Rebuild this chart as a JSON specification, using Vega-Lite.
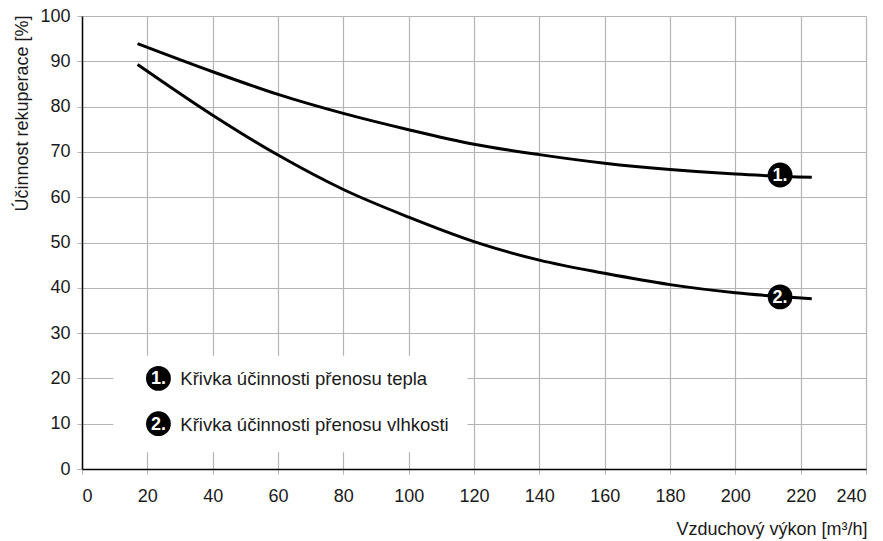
{
  "$schema": "https://vega.github.io/schema/vega-lite/v6.json",
  "autosize": {"type": "none"},
  "padding": {"left": 82, "top": 16, "right": 17, "bottom": 72},
  "width": 784,
  "height": 453,
  "background": "white",
  "config": {
    "view": {"stroke": null},
    "font": "Liberation Sans",
    "axis": {
      "labelFont": "Liberation Sans",
      "titleFont": "Liberation Sans",
      "labelFontSize": 18,
      "titleFontSize": 18,
      "titleFontWeight": "normal",
      "labelColor": "#1a1a1a",
      "titleColor": "#1a1a1a",
      "domainColor": "black",
      "domainWidth": 1.5,
      "gridColor": "#b4b4b4",
      "gridWidth": 1.2,
      "tickColor": "#b4b4b4",
      "tickSize": 5
    }
  },
  "datasets": {
    "curves": [
      {"series": "1", "x": 17, "y": 93.9},
      {"series": "1", "x": 40, "y": 87.7},
      {"series": "1", "x": 60, "y": 82.7},
      {"series": "1", "x": 80, "y": 78.5},
      {"series": "1", "x": 100, "y": 74.9},
      {"series": "1", "x": 120, "y": 71.7},
      {"series": "1", "x": 140, "y": 69.4},
      {"series": "1", "x": 160, "y": 67.5},
      {"series": "1", "x": 180, "y": 66.1},
      {"series": "1", "x": 200, "y": 65.1},
      {"series": "1", "x": 223.4, "y": 64.4},
      {"series": "2", "x": 17, "y": 89.3},
      {"series": "2", "x": 40, "y": 78.1},
      {"series": "2", "x": 60, "y": 69.3},
      {"series": "2", "x": 80, "y": 61.7},
      {"series": "2", "x": 100, "y": 55.6},
      {"series": "2", "x": 120, "y": 50.2},
      {"series": "2", "x": 140, "y": 46.1},
      {"series": "2", "x": 160, "y": 43.2},
      {"series": "2", "x": 180, "y": 40.7},
      {"series": "2", "x": 200, "y": 38.9},
      {"series": "2", "x": 223.4, "y": 37.6}
    ],
    "markers": [
      {"label": "1.", "x": 213.7, "y": 64.9},
      {"label": "2.", "x": 213.7, "y": 38.0}
    ],
    "legend": [
      {"label": "1.", "text": "Křivka účinnosti přenosu tepla", "x": 23.4, "tx": 30.1, "y": 20},
      {"label": "2.", "text": "Křivka účinnosti přenosu vlhkosti", "x": 23.4, "tx": 30.1, "y": 10}
    ],
    "box": [
      {"x": 9.6, "x2": 118, "y": 3.7, "y2": 25}
    ]
  },
  "layer": [
    {
      "data": {"name": "box"},
      "mark": {"type": "rect", "fill": "white", "stroke": null},
      "encoding": {
        "x": {
          "field": "x", "type": "quantitative",
          "scale": {"domain": [0, 240], "nice": false, "zero": false},
          "axis": {
            "values": [0, 20, 40, 60, 80, 100, 120, 140, 160, 180, 200, 220, 240],
            "title": "Vzduchový výkon [m³/h]",
            "labelPadding": 13,
            "titleAnchor": "end",
            "titleAlign": "right",
            "titleX": 785,
            "titleY": 60,
            "titleBaseline": "middle"
          }
        },
        "x2": {"field": "x2"},
        "y": {
          "field": "y", "type": "quantitative",
          "scale": {"domain": [0, 100], "nice": false, "zero": false},
          "axis": {
            "values": [0, 10, 20, 30, 40, 50, 60, 70, 80, 90, 100],
            "title": "Účinnost rekuperace [%]",
            "labelPadding": 7,
            "titleAngle": -90,
            "titleAlign": "right",
            "titleBaseline": "middle",
            "titleX": -60,
            "titleY": -1
          }
        },
        "y2": {"field": "y2"}
      }
    },
    {
      "data": {"name": "curves"},
      "mark": {"type": "line", "color": "black", "strokeWidth": 3, "interpolate": "monotone", "strokeCap": "butt"},
      "encoding": {
        "x": {"field": "x", "type": "quantitative"},
        "y": {"field": "y", "type": "quantitative"},
        "detail": {"field": "series"}
      }
    },
    {
      "data": {"name": "markers"},
      "mark": {"type": "circle", "color": "black", "opacity": 1, "size": 616},
      "encoding": {
        "x": {"field": "x", "type": "quantitative"},
        "y": {"field": "y", "type": "quantitative"}
      }
    },
    {
      "data": {"name": "markers"},
      "mark": {"type": "text", "color": "white", "fontWeight": "bold", "fontSize": 18, "align": "center", "baseline": "middle", "dy": 1},
      "encoding": {
        "x": {"field": "x", "type": "quantitative"},
        "y": {"field": "y", "type": "quantitative"},
        "text": {"field": "label"}
      }
    },
    {
      "data": {"name": "legend"},
      "mark": {"type": "circle", "color": "black", "opacity": 1, "size": 616},
      "encoding": {
        "x": {"field": "x", "type": "quantitative"},
        "y": {"field": "y", "type": "quantitative"}
      }
    },
    {
      "data": {"name": "legend"},
      "mark": {"type": "text", "color": "white", "fontWeight": "bold", "fontSize": 18, "align": "center", "baseline": "middle", "dy": 1},
      "encoding": {
        "x": {"field": "x", "type": "quantitative"},
        "y": {"field": "y", "type": "quantitative"},
        "text": {"field": "label"}
      }
    },
    {
      "data": {"name": "legend"},
      "mark": {"type": "text", "color": "#1a1a1a", "fontSize": 18.5, "align": "left", "baseline": "middle", "dy": 1},
      "encoding": {
        "x": {"field": "tx", "type": "quantitative"},
        "y": {"field": "y", "type": "quantitative"},
        "text": {"field": "text"}
      }
    }
  ]
}
